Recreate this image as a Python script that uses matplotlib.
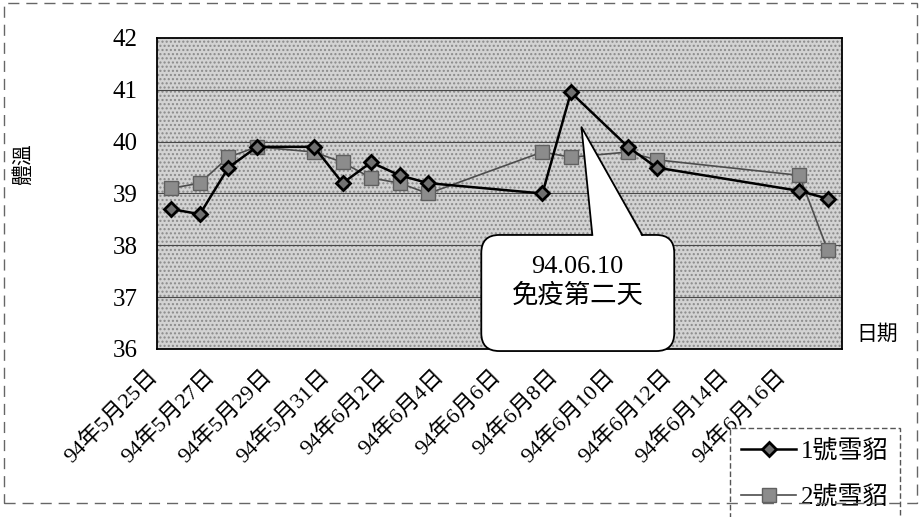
import numpy as np
import matplotlib
matplotlib.use('Agg')
import matplotlib.pyplot as plt
from matplotlib.patches import FancyBboxPatch, Polygon, Rectangle
from matplotlib import transforms

plt.rcParams['font.family'] = ['Liberation Serif', 'Noto Sans CJK TC']
plt.rcParams['hatch.linewidth'] = 1.0

# 量測日期 (民國94年 = 2005)
start = np.datetime64('2005-05-25')
dates = np.array(['2005-05-25', '2005-05-26', '2005-05-27', '2005-05-28',
                  '2005-05-30', '2005-05-31', '2005-06-01', '2005-06-02',
                  '2005-06-03', '2005-06-07', '2005-06-08', '2005-06-10',
                  '2005-06-11', '2005-06-16', '2005-06-17'], dtype='datetime64[D]')

ferret1 = [38.7, 38.6, 39.5, 39.9, 39.9, 39.2, 39.6, 39.35, 39.2,
           39.0, 40.95, 39.9, 39.5, 39.05, 38.9]
ferret2 = [39.1, 39.2, 39.7, 39.9, 39.8, 39.6, 39.3, 39.2, 39.0,
           39.8, 39.7, 39.8, 39.65, 39.35, 37.9]

tick_days = [0, 2, 4, 6, 8, 10, 12, 14, 16, 18, 20, 22]
tick_labels = ['94年5月25日', '94年5月27日', '94年5月29日', '94年5月31日',
               '94年6月2日', '94年6月4日', '94年6月6日', '94年6月8日',
               '94年6月10日', '94年6月12日', '94年6月14日', '94年6月16日']

x = (dates - start).astype(int)

fig = plt.figure(figsize=(9.2, 5.17), dpi=100)
ax = fig.add_axes([0.1707, 0.325, 0.7446, 0.6015])

# 背景網點
ax.set_facecolor('#d3d3d3')
ax.add_patch(Rectangle((0, 0), 1, 1, transform=ax.transAxes, facecolor='none',
                       edgecolor='#8a8a8a', hatch='....', lw=0, zorder=0.5))
for v in range(37, 42):
    ax.axhline(v, color='#484848', lw=0.8, zorder=1)

l2, = ax.plot(x, ferret2, color='#4d4d4d', lw=1.2, marker='s', ms=9.5,
              mfc='#8c8c8c', mec='#606060', mew=1, zorder=3, label='2號雪貂')
l1, = ax.plot(x, ferret1, color='black', lw=1.8, marker='D', ms=7,
              mfc='#707070', mec='black', mew=2, zorder=4, label='1號雪貂')

ax.set_xlim(-0.5, 23.5)
ax.set_ylim(36, 42)
for s in ax.spines.values():
    s.set_color('black')
    s.set_linewidth(1.3)

ax.set_yticks(range(36, 43))
ax.tick_params(axis='y', length=0, pad=14, labelsize=18)
ax.set_xticks(tick_days)
ax.set_xticklabels(tick_labels, rotation=45, ha='right', va='top',
                   rotation_mode='anchor', fontsize=16)
ax.tick_params(axis='x', length=0, pad=12)
offset = transforms.ScaledTranslation(-24 / 100, 0, fig.dpi_scale_trans)
for lab in ax.get_xticklabels():
    lab.set_transform(lab.get_transform() + offset)

# 對話框標註
bx0, bx1 = 10.86, 17.62
by0, by1 = 35.96, 38.2
tip = (14.37, 40.28)
ax.add_patch(FancyBboxPatch((bx0, by0), bx1 - bx0, by1 - by0,
                            boxstyle='round,pad=0,rounding_size=0.63',
                            mutation_aspect=0.55, fc='white', ec='black',
                            lw=1.3, zorder=5, clip_on=False))
ax.add_patch(Polygon([(14.75, by1 - 0.05), tip, (16.5, by1 - 0.05)],
                     closed=True, fc='white', ec='none', zorder=6))
ax.plot([14.75, tip[0], 16.5], [by1, tip[1], by1], color='black', lw=1.3, zorder=7)
ax.text(14.23, 37.3, '94.06.10\n免疫第二天', ha='center', va='center',
        fontsize=19, linespacing=1.3, zorder=8)

fig.text(0.954, 0.352, '日期', ha='center', va='center', fontsize=15)
fig.text(0.026, 0.683, '體溫', rotation=90, ha='center', va='center', fontsize=15)

leg = ax.legend(handles=[l1, l2], loc='upper left', bbox_to_anchor=(0.7935, 0.172),
                bbox_transform=fig.transFigure, fontsize=18, handlelength=2.2,
                handletextpad=0.2, labelspacing=0.9, borderpad=0.45,
                borderaxespad=0, frameon=True, fancybox=False,
                edgecolor='#555555', framealpha=1)
leg.get_frame().set_linestyle((0, (4, 2)))
leg.get_frame().set_linewidth(1)

fig.add_artist(Rectangle((0.0043, 0.027), 0.9924, 0.967, transform=fig.transFigure,
                         fill=False, ls=(0, (8, 5)), ec='#666666', lw=1))

fig.savefig('out.png', dpi=100)
